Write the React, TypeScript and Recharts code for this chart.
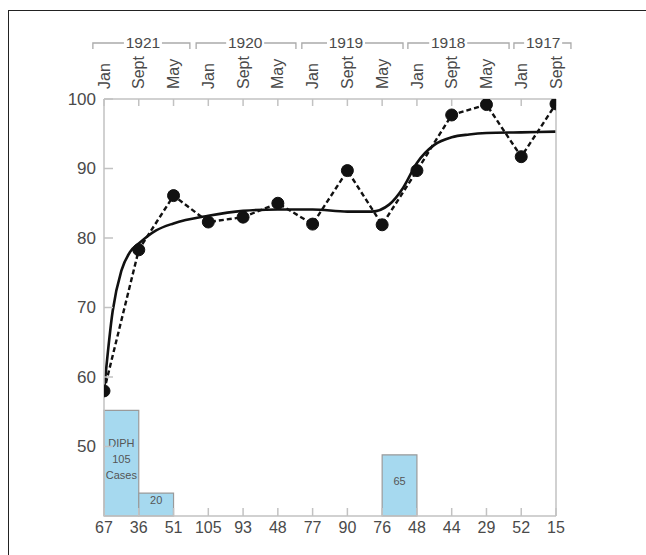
import React from "react";
import {
  ComposedChart,
  Line,
  XAxis,
  YAxis,
  ReferenceArea,
} from "recharts";

// top axis (month of survey) and bottom axis (cases)
const months = ["Jan", "Sept", "May", "Jan", "Sept", "May", "Jan", "Sept", "May", "Jan", "Sept", "May", "Jan", "Sept"];
const cases = [67, 36, 51, 105, 93, 48, 77, 90, 76, 48, 44, 29, 52, 15];
const rates = [58, 78.3, 86.1, 82.3, 83, 85, 82, 89.7, 81.9, 89.7, 97.7, 99.2, 91.7, 99.3];

// smooth fitted curve
const fitX = [0, 0.25, 0.5, 0.75, 1, 1.5, 2, 3, 4, 5, 6, 7, 7.7, 8.2, 8.6, 9, 9.5, 10, 10.5, 11, 12, 13];
const fitY = [58, 69.5, 75.3, 78, 79.2, 81.1, 82.1, 83.2, 83.9, 84.1, 84.1, 83.8, 83.8, 84.8, 87.2, 90.8, 93.4, 94.5, 94.9, 95.1, 95.2, 95.3];

// year brackets above the months (in category units)
const years = ["1921", "1920", "1919", "1918", "1917"];
const yearFrom = [-0.32, 2.65, 5.69, 8.74, 11.79];
const yearTo = [2.47, 5.52, 8.6, 11.65, 13.43];
const yearMid = [1.12, 4.06, 6.96, 9.9, 12.63];

// light blue boxes (diphtheria cases)
const barFrom = [0, 1, 8];
const barTo = [1, 2, 9];
const barTop = [55.2, 43.3, 48.8];
const barText = [["DIPH", "105", "Cases"], ["20"], ["65"]];

const yTicks = [50, 60, 70, 80, 90, 100];
const xTicks = months.map((_, i) => i);

const rateData = rates.map((v, i) => ({ idx: i, rate: v }));
const fitData = fitX.map((x, i) => ({ idx: x, fit: fitY[i] }));

const FONT = '"Liberation Sans", Arial, sans-serif';
const AXIS = "#c2c2c2";
const TEXT = "#4a4a4a";
const PLOT_W = 452;
const STEP = PLOT_W / (months.length - 1);

const TopTick = (props: any) => {
  const { x, y, payload } = props;
  const i = payload.value;
  const bracketY = y - 48;
  return (
    <g>
      <text
        x={x}
        y={y - 2}
        dy="0.35em"
        transform={`rotate(-90, ${x}, ${y - 2})`}
        textAnchor="start"
        fontSize={16}
        fontFamily={FONT}
        fill={TEXT}
      >
        {months[i]}
      </text>
      {i === 0 &&
        years.map((yr, k) => {
          const x0 = x + yearFrom[k] * STEP;
          const x1 = x + yearTo[k] * STEP;
          const xm = x + yearMid[k] * STEP;
          const half = 19;
          return (
            <g key={yr}>
              <polyline
                points={`${x0},${bracketY + 6} ${x0},${bracketY} ${xm - half},${bracketY}`}
                fill="none"
                stroke="#aaa"
                strokeWidth={1.3}
              />
              <polyline
                points={`${xm + half},${bracketY} ${x1},${bracketY} ${x1},${bracketY + 6}`}
                fill="none"
                stroke="#aaa"
                strokeWidth={1.3}
              />
              <text
                x={xm}
                y={bracketY}
                dy="0.35em"
                textAnchor="middle"
                fontSize={15.5}
                fontFamily={FONT}
                fill={TEXT}
              >
                {yr}
              </text>
            </g>
          );
        })}
    </g>
  );
};

const BottomTick = (props: any) => {
  const { x, y, payload } = props;
  return (
    <text x={x} y={y + 13} textAnchor="middle" fontSize={16} fontFamily={FONT} fill={TEXT}>
      {cases[payload.value]}
    </text>
  );
};

const LeftTick = (props: any) => {
  const { x, y, payload } = props;
  return (
    <text x={x} y={y} dy="0.35em" textAnchor="end" fontSize={17} fontFamily={FONT} fill={TEXT}>
      {payload.value}
    </text>
  );
};

const BarText = (props: any) => {
  const { viewBox, lines } = props;
  if (!viewBox) return null;
  const cx = viewBox.x + viewBox.width / 2;
  const cy = viewBox.y + viewBox.height / 2 - 4;
  const lh = 16;
  const start = cy - ((lines.length - 1) * lh) / 2;
  return (
    <g>
      {lines.map((t: string, k: number) => (
        <text
          key={k}
          x={cx}
          y={start + k * lh}
          dy="0.35em"
          textAnchor="middle"
          fontSize={11}
          fontFamily={FONT}
          fill="#555"
        >
          {t}
        </text>
      ))}
    </g>
  );
};

export default function App() {
  return (
    <div style={{ position: "absolute", left: 0, top: 0, width: 646, height: 555, background: "#fff" }}>
      <div
        style={{
          position: "absolute",
          left: 8,
          top: 10,
          width: 638,
          height: 545,
          boxSizing: "border-box",
          borderTop: "1px solid #222",
          borderLeft: "1px solid #222",
        }}
      />
      <div style={{ position: "absolute", left: 0, top: 0 }}>
        <ComposedChart width={646} height={555} margin={{ top: 39, right: 80, bottom: 9, left: 54 }}>
          <XAxis
            xAxisId="b"
            dataKey="idx"
            type="number"
            domain={[0, 13]}
            ticks={xTicks}
            interval={0}
            height={30}
            tickSize={-8}
            tickMargin={12}
            tickLine={{ stroke: AXIS, strokeWidth: 1.5 }}
            axisLine={{ stroke: AXIS, strokeWidth: 1.5 }}
            tick={<BottomTick />}
            allowDataOverflow
          />
          <XAxis
            xAxisId="t"
            orientation="top"
            dataKey="idx"
            type="number"
            domain={[0, 13]}
            ticks={xTicks}
            interval={0}
            height={60}
            tickSize={-7}
            tickMargin={15}
            tickLine={{ stroke: AXIS, strokeWidth: 1.5 }}
            axisLine={{ stroke: AXIS, strokeWidth: 1.5 }}
            tick={<TopTick />}
            allowDataOverflow
          />
          <YAxis
            yAxisId="l"
            type="number"
            domain={[40, 100]}
            ticks={yTicks}
            interval={0}
            width={50}
            tickSize={-9}
            tickMargin={17}
            tickLine={{ stroke: AXIS, strokeWidth: 1.5 }}
            axisLine={{ stroke: AXIS, strokeWidth: 1.5 }}
            tick={<LeftTick />}
            allowDataOverflow
          />
          <YAxis
            yAxisId="r"
            orientation="right"
            type="number"
            domain={[40, 100]}
            width={10}
            tick={false}
            tickLine={false}
            axisLine={{ stroke: AXIS, strokeWidth: 1.5 }}
          />
          {barFrom.map((x1, k) => (
            <ReferenceArea
              key={k}
              xAxisId="b"
              yAxisId="l"
              x1={x1}
              x2={barTo[k]}
              y1={40}
              y2={barTop[k]}
              fill="#a6d9ef"
              fillOpacity={1}
              stroke="#9a9a9a"
              strokeWidth={1.2}
              label={<BarText lines={barText[k]} />}
            />
          ))}
          <Line
            xAxisId="b"
            yAxisId="r"
            data={fitData}
            dataKey="fit"
            type="monotone"
            stroke="#111"
            strokeWidth={2.6}
            dot={false}
            isAnimationActive={false}
          />
          <Line
            xAxisId="t"
            yAxisId="l"
            data={rateData}
            dataKey="rate"
            type="linear"
            stroke="#111"
            strokeWidth={2.4}
            strokeDasharray="5 3"
            dot={{ r: 6, fill: "#111", stroke: "#111", strokeWidth: 1, strokeDasharray: "0" }}
            isAnimationActive={false}
          />
        </ComposedChart>
      </div>
    </div>
  );
}
